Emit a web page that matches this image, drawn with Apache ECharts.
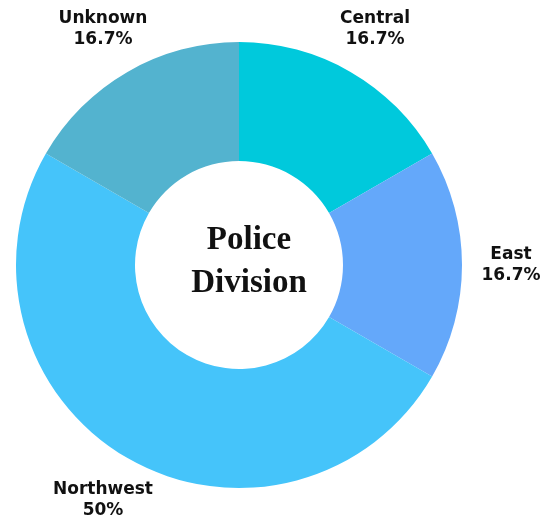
<!DOCTYPE html>
<html>
<head>
<meta charset="utf-8">
<style>
  html, body { margin: 0; padding: 0; background: #fff; }
  #chart { width: 540px; height: 525px; }
</style>
<script src="https://cdn.jsdelivr.net/npm/echarts@6/dist/echarts.min.js"></script>
</head>
<body>
<div id="chart"></div>
<script>
var divisions = ["Central", "East", "Northwest", "Unknown"];
var counts = [1, 1, 3, 1];
var colors = ["#00c9dc", "#64a8fa", "#45c4fa", "#53b3cf"];

var myChart = echarts.init(document.getElementById("chart"));

var total = counts.reduce(function (a, b) { return a + b; }, 0);

var pieData = divisions.map(function (name, i) {
  return { name: name, value: counts[i], itemStyle: { color: colors[i] } };
});

var option = {
  backgroundColor: "#ffffff",
  animation: false,
  title: {
    text: "Police\nDivision",
    left: 244,
    top: 214,
    textAlign: "center",
    textStyle: {
      fontFamily: "Liberation Serif",
      fontWeight: "bold",
      fontSize: 33,
      lineHeight: 43,
      color: "#111"
    }
  },
  series: [
    {
      // the donut itself
      type: "pie",
      center: [239, 265],
      radius: [104, 223],
      startAngle: 90,
      clockwise: true,
      silent: true,
      label: { show: false },
      labelLine: { show: false },
      data: pieData
    },
    {
      // invisible ring used only to place the labels around the donut
      type: "pie",
      center: [239, 265],
      radius: [246, 292],
      startAngle: 90,
      clockwise: true,
      silent: true,
      itemStyle: { color: "rgba(0,0,0,0)" },
      label: {
        show: true,
        position: "inside",
        rotate: 0,
        formatter: function (p) {
          var pct = parseFloat((p.value / total * 100).toFixed(1));
          return p.name + "\n" + pct + "%";
        },
        fontFamily: "DejaVu Sans",
        fontWeight: "bold",
        fontSize: 17,
        lineHeight: 21,
        color: "#111",
        align: "center"
      },
      labelLine: { show: false },
      data: divisions.map(function (name, i) {
        return { name: name, value: counts[i] };
      })
    }
  ]
};

myChart.setOption(option);
window.addEventListener("resize", function () {
  myChart.resize();
});
</script>
</body>
</html>
